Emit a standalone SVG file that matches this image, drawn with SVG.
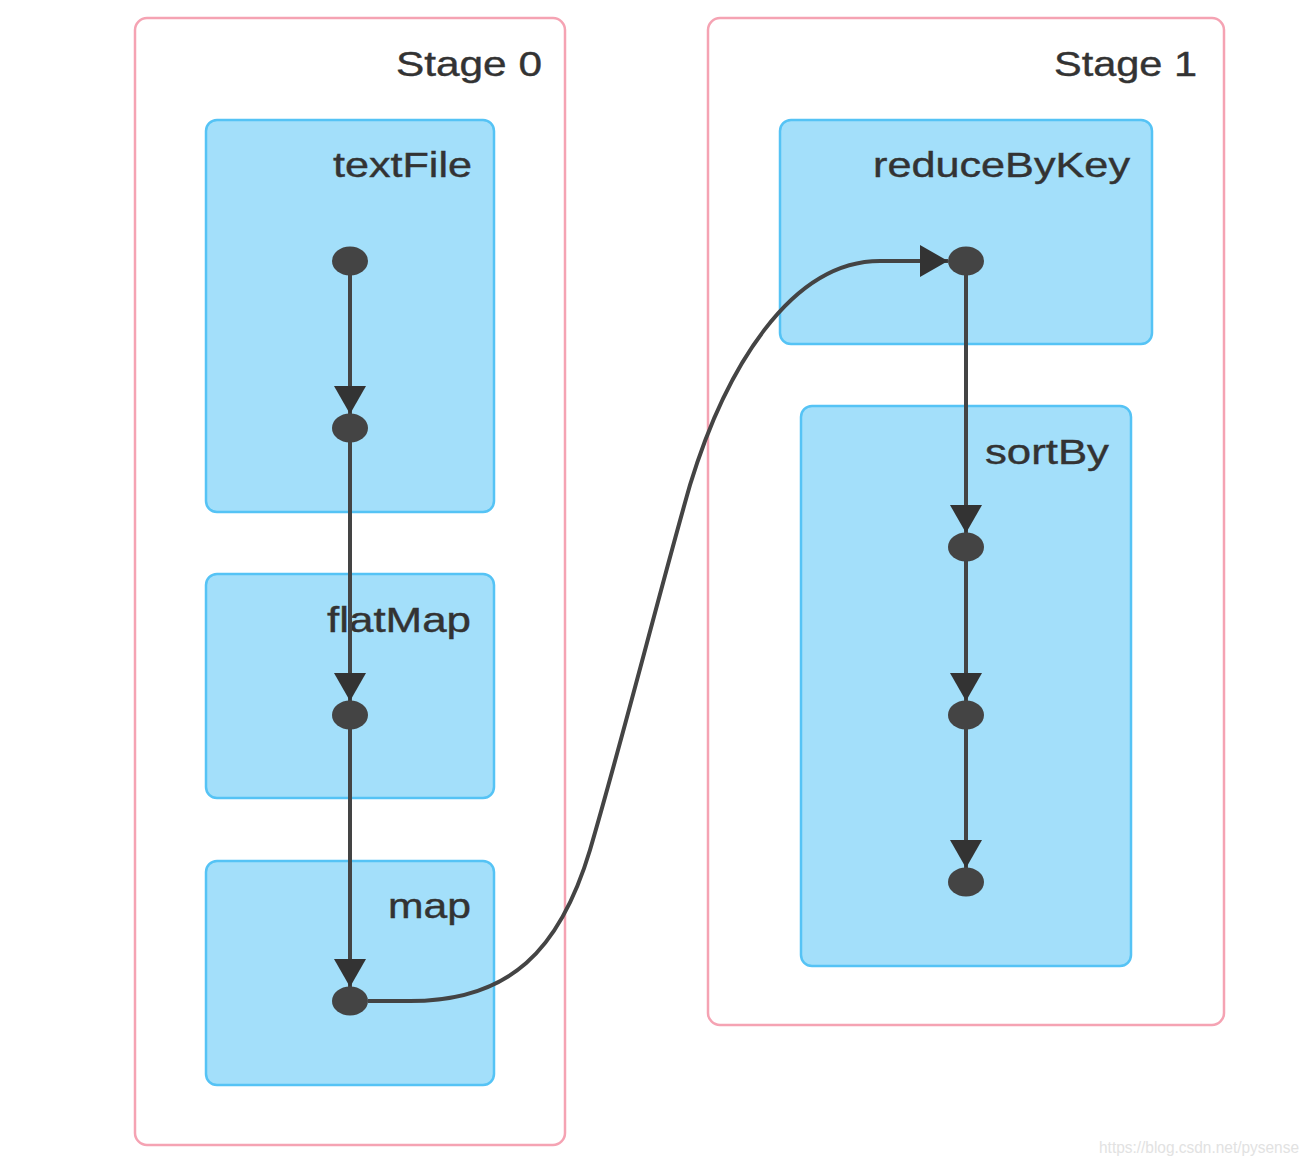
<svg xmlns="http://www.w3.org/2000/svg" width="1313" height="1166" viewBox="0 0 1313 1166">
<style>
.stage{fill:#ffffff;stroke:#f5a3b3;stroke-width:2.5}
.op{fill:#a3dffa;stroke:#55c3f5;stroke-width:2.5}
.lbl{font-family:"Liberation Sans",Arial,sans-serif;font-size:35px;fill:#333333;stroke:#333333;stroke-width:0.4;text-anchor:end}
.edge{fill:none;stroke:#444444;stroke-width:4}
.dot{fill:#444444}
.wm{font-family:"Liberation Sans",Arial,sans-serif;font-size:16px;fill:#e2e2e2}
</style>
<defs>
<marker id="arr" markerUnits="userSpaceOnUse" viewBox="0 0 28 32" markerWidth="28" markerHeight="32" refX="28" refY="16" orient="auto">
<path d="M0,0 L28,16 L0,32 z" fill="#333333"/>
</marker>
</defs>
<g id="stage0">
<rect class="stage" x="135" y="18" width="430" height="1127" rx="12"/>
<text class="lbl" x="542" y="76" textLength="146" lengthAdjust="spacingAndGlyphs">Stage 0</text>
</g>
<g id="stage1">
<rect class="stage" x="708" y="18" width="516" height="1007" rx="12"/>
<text class="lbl" x="1197" y="76" textLength="143" lengthAdjust="spacingAndGlyphs">Stage 1</text>
</g>
<g id="textFile">
<rect class="op" x="206" y="120" width="288" height="392" rx="11"/>
<text class="lbl" x="472" y="177" textLength="139" lengthAdjust="spacingAndGlyphs">textFile</text>
</g>
<g id="flatMap">
<rect class="op" x="206" y="574" width="288" height="224" rx="11"/>
<text class="lbl" x="471" y="632" textLength="144" lengthAdjust="spacingAndGlyphs">flatMap</text>
</g>
<g id="map">
<rect class="op" x="206" y="861" width="288" height="224" rx="11"/>
<text class="lbl" x="471" y="918" textLength="83" lengthAdjust="spacingAndGlyphs">map</text>
</g>
<g id="reduceByKey">
<rect class="op" x="780" y="120" width="372" height="224" rx="11"/>
<text class="lbl" x="1130" y="177" textLength="257" lengthAdjust="spacingAndGlyphs">reduceByKey</text>
</g>
<g id="sortBy">
<rect class="op" x="801" y="406" width="330" height="560" rx="11"/>
<text class="lbl" x="1109" y="464" textLength="124" lengthAdjust="spacingAndGlyphs">sortBy</text>
</g>
<g id="connectors">
<path class="edge" d="M350,260 L350,414" marker-end="url(#arr)"/>
<path class="edge" d="M350,428 L350,701" marker-end="url(#arr)"/>
<path class="edge" d="M350,715 L350,987" marker-end="url(#arr)"/>
<path class="edge" d="M368,1001 L410,1001 C510,1001 560,950 590,850 C625,730 660,590 690,485 C725,370 790,261 880,261 L948,261" marker-end="url(#arr)"/>
<path class="edge" d="M966,260 L966,533" marker-end="url(#arr)"/>
<path class="edge" d="M966,547 L966,701" marker-end="url(#arr)"/>
<path class="edge" d="M966,715 L966,868" marker-end="url(#arr)"/>
</g>
<g id="points">
<ellipse class="dot" cx="350" cy="261" rx="18" ry="14.5"/>
<ellipse class="dot" cx="350" cy="428" rx="18" ry="14.5"/>
<ellipse class="dot" cx="350" cy="715" rx="18" ry="14.5"/>
<ellipse class="dot" cx="350" cy="1001" rx="18" ry="14.5"/>
<ellipse class="dot" cx="966" cy="261" rx="18" ry="14.5"/>
<ellipse class="dot" cx="966" cy="547" rx="18" ry="14.5"/>
<ellipse class="dot" cx="966" cy="715" rx="18" ry="14.5"/>
<ellipse class="dot" cx="966" cy="882" rx="18" ry="14.5"/>
</g>
<text class="wm" x="1099" y="1153" textLength="200" lengthAdjust="spacingAndGlyphs">https://blog.csdn.net/pysense</text>
</svg>
